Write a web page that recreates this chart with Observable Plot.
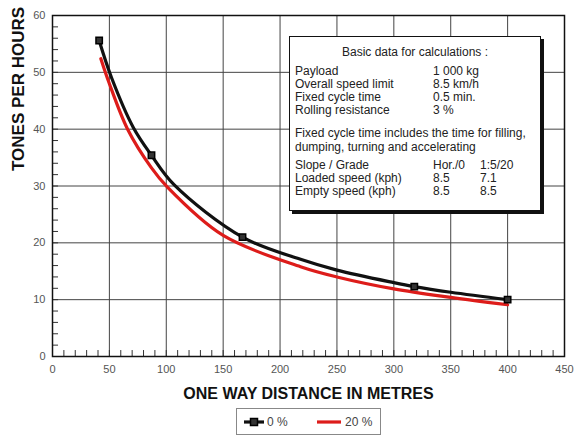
<!DOCTYPE html>
<html>
<head>
<meta charset="utf-8">
<script src="https://cdn.jsdelivr.net/npm/d3@7"></script>
<script src="https://cdn.jsdelivr.net/npm/@observablehq/plot@0.6"></script>
<style>
  html, body { margin: 0; padding: 0; background: #fff; }
  #wrap { position: relative; width: 575px; height: 436px; font-family: "Liberation Sans", Arial, sans-serif; }
  #note { position: absolute; left: 289px; top: 36px; width: 252px; height: 175px; border: 1px solid #111;
          box-shadow: 3px 3px 0 #111; background: #fff; font-size: 12px; color: #222; box-sizing: border-box; }
  #note .title { position: absolute; top: 8px; left: 0; width: 100%; text-align: center; }
  #note .row { position: absolute; left: 5px; white-space: nowrap; line-height: 13px; }
  #note .c2 { position: absolute; left: 138px; }
  #note .c3 { position: absolute; left: 185px; }
  #legend { position: absolute; left: 236px; top: 408px; width: 145px; height: 27px; border: 1px solid #888;
            box-sizing: border-box; font-size: 12px; color: #444; }
  #legend svg { position: absolute; left: 0; top: 0; }
</style>
</head>
<body>
<div id="wrap">
  <div id="chart"></div>
  <div id="note"></div>
  <div id="legend"></div>
</div>
<script>
// ---- data ----
const series0Distance = [41, 52, 71, 87, 107, 167, 218, 250, 300, 318, 350, 400];
const series0Tph      = [55.6, 49.0, 40.3, 35.4, 30.2, 21, 17.1, 15.2, 13.0, 12.3, 11.3, 10];
const marker0Distance = [41, 87, 167, 318, 400];
const marker0Tph      = [55.6, 35.4, 21, 12.3, 10];
const series20Distance = [42.5, 50, 66, 87, 101, 150, 218, 250, 300, 350, 400];
const series20Tph      = [52.4, 48.0, 40, 33.2, 29.8, 21.3, 15.8, 14.0, 11.9, 10.4, 9.1];
const seriesNames = ["0 %", "20 %"];
const xTicks = [0, 50, 100, 150, 200, 250, 300, 350, 400, 450];
const yTicks = [0, 10, 20, 30, 40, 50, 60];
const xMinor = d3.range(0, 451, 10);
const yMinor = d3.range(0, 61, 2);
const xLabel = "ONE WAY DISTANCE IN METRES";
const yLabel = "TONES PER HOURS";
const noteTitle = "Basic data for calculations :";
const noteRows1 = [["Payload", "1 000 kg"], ["Overall speed limit", "8.5 km/h"], ["Fixed cycle time", "0.5 min."], ["Rolling resistance", "3 %"]];
const noteText = ["Fixed cycle time includes the time for filling,", "dumping, turning and accelerating"];
const noteRows2 = [["Slope / Grade", "Hor./0", "1:5/20"], ["Loaded speed (kph)", "8.5", "7.1"], ["Empty speed (kph)", "8.5", "8.5"]];

const black = "#111111", red = "#dd1c1a";
const s0 = series0Distance.map((d, i) => ({d, t: series0Tph[i]}));
const m0 = marker0Distance.map((d, i) => ({d, t: marker0Tph[i]}));
const s20 = series20Distance.map((d, i) => ({d, t: series20Tph[i]}));

const chart = Plot.plot({
  width: 575, height: 404,
  marginLeft: 52, marginRight: 11, marginTop: 15, marginBottom: 48,
  style: {fontFamily: "'Liberation Sans', Arial, sans-serif", fontSize: "11px", color: "#555", background: "#fff"},
  x: {domain: [0, 450]},
  y: {domain: [0, 60]},
  marks: [
    Plot.gridX(xTicks, {stroke: "#444", strokeOpacity: 1, strokeWidth: 1}),
    Plot.gridY(yTicks, {stroke: "#444", strokeOpacity: 1, strokeWidth: 1}),
    Plot.ruleX(xMinor, {y1: 0, y2: 1.05, stroke: "#333"}),
    Plot.ruleY(yMinor, {x1: 0, x2: 5.3, stroke: "#333"}),
    Plot.line(s20, {x: "d", y: "t", stroke: red, strokeWidth: 3.2, curve: "catmull-rom"}),
    Plot.line(s0, {x: "d", y: "t", stroke: black, strokeWidth: 3.2, curve: "catmull-rom"}),
    Plot.dot(m0, {x: "d", y: "t", symbol: "square", r: 3.6, fill: "#333", stroke: "#000", strokeWidth: 1.5}),
    Plot.frame({stroke: "#111", strokeWidth: 1.5}),
    Plot.axisX(xTicks, {tickSize: 0, tickPadding: 9, fill: "#555", fontSize: 11, label: null}),
    Plot.axisY(yTicks, {tickSize: 0, tickPadding: 7, fill: "#555", fontSize: 11, label: null}),
    Plot.text([xLabel], {frameAnchor: "bottom", lineAnchor: "middle", dy: 37, fontSize: 16, fontWeight: "bold", fill: "#111"}),
    Plot.text([yLabel], {frameAnchor: "left", rotate: -90, lineAnchor: "middle", dx: -34, dy: -15, fontSize: 17, fontWeight: "bold", fill: "#111"})
  ]
});
document.getElementById("chart").appendChild(chart);

// annotation box
const note = document.getElementById("note");
const add = (html, top, cls) => { const e = document.createElement("div"); e.className = cls; e.style.top = top + "px"; e.innerHTML = html; note.appendChild(e); };
add(noteTitle, 8, "title");
noteRows1.forEach((r, i) => add(`${r[0]}<span class="c2">${r[1]}</span>`, 28 + i * 13, "row"));
noteText.forEach((t, i) => add(t, 90 + i * 14, "row"));
noteRows2.forEach((r, i) => add(`${r[0]}<span class="c2">${r[1]}</span><span class="c3">${r[2]}</span>`, 122 + i * 13, "row"));

// legend
const lg = d3.select("#legend").append("svg").attr("width", 145).attr("height", 27);
lg.append("line").attr("x1", 7).attr("x2", 27).attr("y1", 13).attr("y2", 13).attr("stroke", black).attr("stroke-width", 3.2);
lg.append("rect").attr("x", 13.5).attr("y", 9.5).attr("width", 7).attr("height", 7).attr("fill", "#333").attr("stroke", "#000").attr("stroke-width", 1.5);
lg.append("text").attr("x", 30).attr("y", 17).attr("fill", "#444").style("font-size", "12px").text(seriesNames[0]);
lg.append("line").attr("x1", 80).attr("x2", 104).attr("y1", 13).attr("y2", 13).attr("stroke", red).attr("stroke-width", 3.2);
lg.append("text").attr("x", 108).attr("y", 17).attr("fill", "#444").style("font-size", "12px").text(seriesNames[1]);
</script>
</body>
</html>
